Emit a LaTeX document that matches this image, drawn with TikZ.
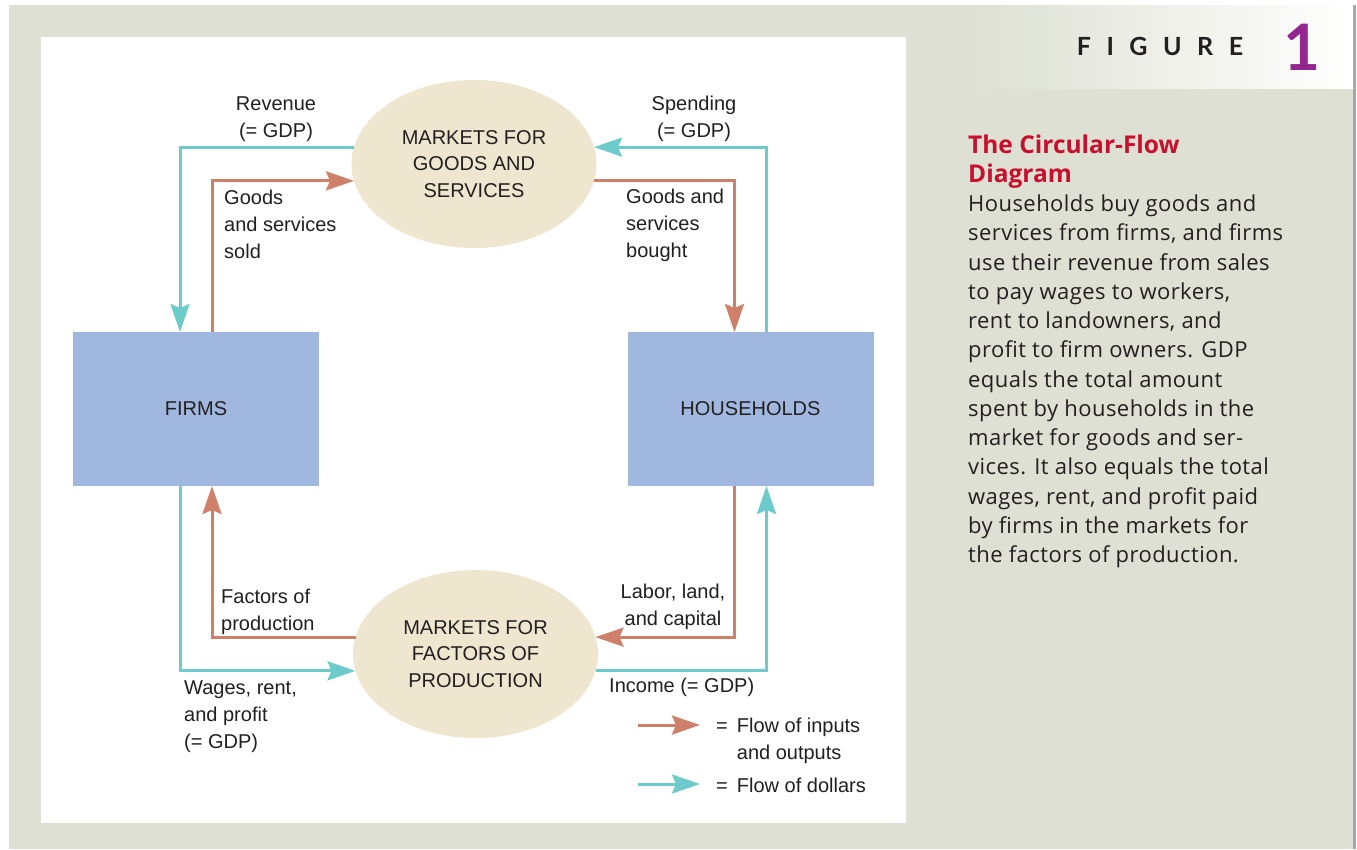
\documentclass[tikz,border=0pt]{standalone}
\usepackage{fontspec}
\setmainfont{Liberation Sans}
\newfontfamily\capfont{Open Sans}
\newfontfamily\headfont{Lato}
\usetikzlibrary{arrows.meta, shapes.geometric}
\definecolor{panelgray}{HTML}{DDE0D2}
\definecolor{flowteal}{HTML}{6DCCCB}
\definecolor{flowsalmon}{HTML}{CF806B}
\definecolor{marketbeige}{HTML}{EFE6CF}
\definecolor{agentblue}{HTML}{A0B8E0}
\definecolor{titlered}{HTML}{C8102E}
\definecolor{figpurple}{HTML}{93278F}
\definecolor{inkblack}{HTML}{231F20}

\begin{document}
\begin{tikzpicture}[x=1pt, y=-1pt,
    lbl/.style={font=\fontsize{20}{27}\selectfont, text=inkblack, inner sep=0pt},
    market/.style={ellipse, fill=marketbeige, minimum width=245pt, minimum height=168pt,
      inner sep=0pt, outer sep=0pt, align=center, text=inkblack,
      font=\fontsize{20}{26.5}\selectfont},
    agent/.style={rectangle, fill=agentblue, minimum width=246pt, minimum height=154pt,
      inner sep=0pt, outer sep=0pt, text=inkblack, font=\fontsize{20}{24}\selectfont},
    goodsflow/.style={draw=flowsalmon, line width=3pt,
      -{Stealth[length=28pt, width=19pt, inset=4pt]}},
    dollarflow/.style={draw=flowteal, line width=3pt,
      -{Stealth[length=28pt, width=19pt, inset=4pt]}}]
    \useasboundingbox (0,0) rectangle (1357,849);
    % Hintergrund
    \fill[panelgray] (9,5) rectangle (1353,849);
    \fill[gray!70] (1353,5) rectangle (1356,849);
    \shade[left color=panelgray, right color=white] (967,5) rectangle (1353,88);
    \fill[white] (41,37) rectangle (906,823);
    % Maerkte und Sektoren
    \node[market] (goods) at (474,164) {MARKETS FOR\\GOODS AND\\SERVICES};
    \node[market] (factors) at (475.5,654) {MARKETS FOR\\FACTORS OF\\PRODUCTION};
    \node[agent] (firms) at (196,409) {FIRMS};
    \node[agent] (homes) at (750.5,409) {HOUSEHOLDS};
    % Kreislauf oben
    \draw[dollarflow] (goods.172) -| ([xshift=-16pt]firms.north);
    \draw[goodsflow] ([xshift=16pt]firms.north) |- (goods.188);
    \draw[dollarflow] ([xshift=16pt]homes.north) |- (goods.8);
    \draw[goodsflow] (goods.-8) -| ([xshift=-16pt]homes.north);
    % Kreislauf unten
    \draw[goodsflow] ([xshift=-16pt]homes.south) |- (factors.8);
    \draw[dollarflow] (factors.-8) -| ([xshift=16pt]homes.south);
    \draw[goodsflow] (factors.172) -| ([xshift=16pt]firms.south);
    \draw[dollarflow] ([xshift=-16pt]firms.south) |- (factors.188);
    % Beschriftungen
    \node[lbl, align=center] (revenue) at (276,119) {Revenue\\(= GDP)};
    \node[lbl, align=center] (spending) at (694,119) {Spending\\(= GDP)};
    \node[lbl, align=left, anchor=west] (sold) at (224,224.5) {Goods\\and services\\sold};
    \node[lbl, align=left, anchor=west] (bought) at (626,225) {Goods and\\services\\bought};
    \node[lbl, align=left, anchor=west] (factin) at (221,611.5) {Factors of\\production};
    \node[lbl, align=center] (labor) at (673,606.5) {Labor, land,\\and capital};
    \node[lbl, anchor=west] (income) at (609,687.5) {Income (= GDP)};
    \node[lbl, align=left, anchor=west] (wages) at (184,716.5) {Wages, rent,\\and profit\\(= GDP)};
    % Legende
    \node[lbl, align=left, anchor=west] (leg1) at (716,740.5)
      {=\hspace{9pt}Flow of inputs\\\phantom{=}\hspace{9pt}and outputs};
    \node[lbl, anchor=west] (leg2) at (716,785.5) {=\hspace{9pt}Flow of dollars};
    \coordinate (l1s) at (638,725);
    \coordinate (l1e) at (700,725);
    \coordinate (l2s) at (638,784);
    \coordinate (l2e) at (700,784);
    \draw[goodsflow] (l1s) -- (l1e);
    \draw[dollarflow] (l2s) -- (l2e);
    % Kopf und Text rechts
    \node[font=\headfont\bfseries\fontsize{25}{25}\selectfont\addfontfeature{LetterSpace=62},
      text=inkblack, inner sep=0pt] (fig) at (1160,46) {FIGURE};
    \node[font=\headfont\bfseries\fontsize{64}{64}\selectfont, text=figpurple, inner sep=0pt]
      (fignum) at (1302,47) {1};
    \node[font=\capfont\bfseries\fontsize{24.5}{29}\selectfont, text=titlered, align=left,
      anchor=west, inner sep=0pt] (title) at (968,161.5) {The Circular-Flow\\Diagram};
    \node[font=\capfont\fontsize{22}{29.25}\selectfont\addfontfeature{LetterSpace=2},
      text=inkblack, align=left, anchor=west, inner sep=0pt] (caption) at (968,381.5)
      {Households buy goods and\\services from firms, and firms\\use their revenue from sales\\
       to pay wages to workers,\\rent to landowners, and\\profit to firm owners. GDP\\
       equals the total amount\\spent by households in the\\market for goods and ser-\\
       vices. It also equals the total\\wages, rent, and profit paid\\by firms in the markets for\\
       the factors of production.};
\end{tikzpicture}
\end{document}
